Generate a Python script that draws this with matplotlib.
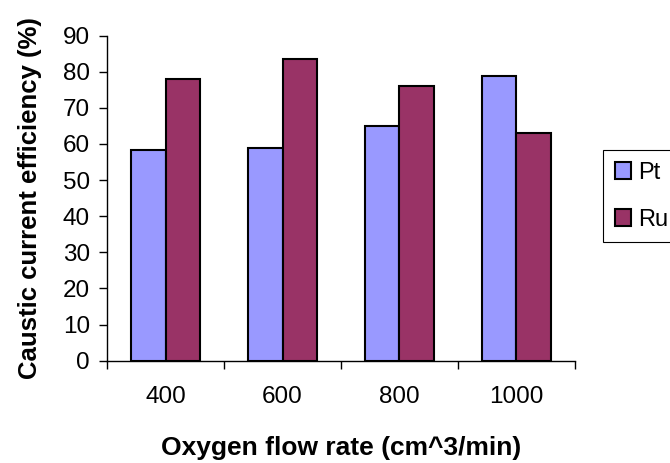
import matplotlib.pyplot as plt
import numpy as np

# data
flow_rates = ['400', '600', '800', '1000']
pt_eff = [58.2, 59.0, 65.0, 78.8]
ru_eff = [78.0, 83.5, 76.0, 63.0]

plt.rcParams['font.family'] = ['Liberation Sans', 'DejaVu Sans']

fig = plt.figure(figsize=(6.7, 4.63), dpi=100)
ax = fig.add_axes([0.160, 0.221, 0.698, 0.702])

x = np.arange(len(flow_rates))
w = 0.295
ax.bar(x - w / 2, pt_eff, w, color='#9999FF', edgecolor='black', linewidth=1.5, label='Pt')
ax.bar(x + w / 2, ru_eff, w, color='#993366', edgecolor='black', linewidth=1.5, label='Ru')

ax.set_xlim(-0.5, len(flow_rates) - 0.5)
ax.set_ylim(0, 90)
ax.set_yticks(range(0, 91, 10))
ax.set_xticks(x)
ax.set_xticklabels(flow_rates)
# category separators as ticks
ax.set_xticks(np.arange(-0.5, len(flow_rates), 1), minor=True)
ax.tick_params(axis='x', which='major', length=0, labelsize=17.5, pad=18)
ax.tick_params(axis='x', which='minor', length=6, width=1, direction='out')
ax.tick_params(axis='y', length=5.5, width=1, labelsize=17.5, pad=7, direction='out')

for s in ['top', 'right']:
    ax.spines[s].set_visible(False)
for s in ['left', 'bottom']:
    ax.spines[s].set_linewidth(1)

ax.set_xlabel('Oxygen flow rate (cm^3/min)', fontsize=19, fontweight='bold')
ax.set_ylabel('Caustic current efficiency (%)', fontsize=18.5, fontweight='bold')
ax.xaxis.set_label_coords(0.5, -0.232)
ax.yaxis.set_label_coords(-0.139, 0.5)

# legend sits at the right edge, like the original
leg = fig.legend(loc='upper left', bbox_to_anchor=(0.9, 0.676), fontsize=17,
                 handlelength=0.7, handleheight=0.7, handletextpad=0.3,
                 labelspacing=1.05, borderpad=0.5, borderaxespad=0,
                 fancybox=False, framealpha=1, edgecolor='black')
leg.get_frame().set_linewidth(0.8)

fig.savefig('out.png', dpi=100)
